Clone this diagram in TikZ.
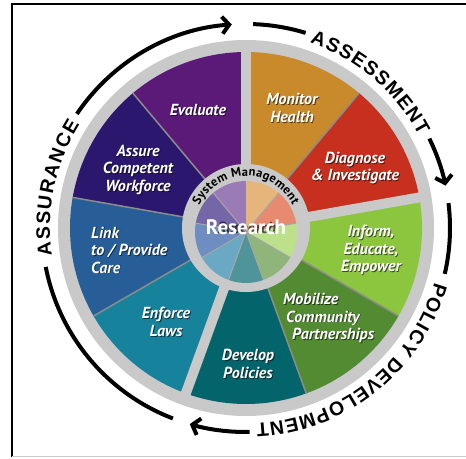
\documentclass[tikz,border=0pt]{standalone}
\usepackage{fontspec}
\setsansfont{PT Sans}
\newfontfamily\ringfont{Liberation Sans}
\usetikzlibrary{arrows.meta,decorations.text}

% outer segments
\definecolor{monitorc}{HTML}{C98A2B}
\definecolor{diagnosec}{HTML}{C72F1E}
\definecolor{informc}{HTML}{8CC63E}
\definecolor{mobilizec}{HTML}{528B32}
\definecolor{developc}{HTML}{03656B}
\definecolor{enforcec}{HTML}{17829C}
\definecolor{linkc}{HTML}{285E97}
\definecolor{assurec}{HTML}{2B176E}
\definecolor{evaluatec}{HTML}{5C1A78}
% inner (research) segments
\definecolor{monitori}{HTML}{E6B57C}
\definecolor{diagnosei}{HTML}{E88A70}
\definecolor{informi}{HTML}{BDE08A}
\definecolor{mobilizei}{HTML}{8FB57A}
\definecolor{developi}{HTML}{4F9499}
\definecolor{enforcei}{HTML}{6AA8C4}
\definecolor{linki}{HTML}{6F8DC0}
\definecolor{assurei}{HTML}{7566A8}
\definecolor{evaluatei}{HTML}{9B7BB5}
\definecolor{ringgray}{HTML}{C9C9C9}
\definecolor{sepgray}{HTML}{8C8C8C}

\tikzset{
  ring/.style      = {line width=4pt, black},
  cycarrow/.style  = {ring, -{Straight Barb[length=7pt,width=17pt]}},
  gap/.style       = {line width=10pt, ringgray},
  sep/.style       = {line width=1.5pt, sepgray},
  lbl/.style       = {text=white, inner sep=0pt, align=center,
                      font=\sffamily\bfseries\itshape\fontsize{16}{17.5}\selectfont},
  lblshadow/.style = {lbl, text=black, opacity=0.6, xshift=0.9pt, yshift=-0.9pt},
  research/.style  = {lbl, font=\sffamily\bfseries\fontsize{21}{21}\selectfont},
  arctext/.style   = {decorate, decoration={text along path,
                      text align={fit to path}, text={#1}}}
}

\begin{document}
\begin{tikzpicture}[x=1pt,y=1pt]

\useasboundingbox (-246,-230) rectangle (220,228);
\fill[white] (-246,-230) rectangle (220,228);

% frame
\draw[line width=1.5pt] (-234,-229) -- (-234,224) -- (220,224);
\draw[line width=0.8pt, black!20] (-234,-228) -- (220,-228);

% wheel
\fill[ringgray] (0,0) circle (188);
\foreach \a/\col in {90/monitorc, 50/diagnosec, 10/informc, -30/mobilizec,
  -70/developc, -110/enforcec, -150/linkc, -190/assurec, -230/evaluatec}{
    \fill[\col] (0,0) -- (\a:176) arc[start angle=\a, end angle=\a-40, radius=176] -- cycle;
    }
\foreach \s in {50,-30,-70,-150,170,130}
    \draw[sep] (0,0) -- (\s:176);
\foreach \g in {90,10,-110}
    \draw[gap] (0,0) -- (\g:182);

% research hub
\fill[ringgray] (0,0) circle (64);
\begin{scope}[shift={(0,-4)}]
\foreach \a/\col in {90/monitori, 50/diagnosei, 10/informi, -30/mobilizei,
  -70/developi, -110/enforcei, -150/linki, -190/assurei, -230/evaluatei}{
    \fill[\col] (0,0) -- (\a:51) arc[start angle=\a, end angle=\a-40, radius=51] -- cycle;
    \draw[line width=1pt, black!35] (0,0) -- (\a:51);
    }
\end{scope}
\path[arctext={|\sffamily\bfseries\fontsize{12.5}{12.5}\selectfont|System Management}]
    (154:52) arc[start angle=154, end angle=26, radius=52];

\node[lblshadow] (research-sh) at (0,1) {Research};
\node[research] (research) at (0,1) {Research};

% segment labels
\foreach \nm/\px/\py/\txt in {evaluate/-48/118/{Evaluate},
    monitor/46/120/{Monitor\\Health},
    diagnose/109/60/{Diagnose\\\& Investigate},
    inform/125/-22/{Inform,\\Educate,\\Empower},
    develop/2/-136/{Develop\\Policies},
    enforce/-80/-94/{Enforce\\Laws},
    assure/-108/58/{Assure\\Competent\\Workforce}}{
    \node[lblshadow] (\nm-sh) at (\px,\py) {\txt};
    \node[lbl] (\nm) at (\px,\py) {\txt};
    }
\node[lblshadow, align=left, anchor=west] (mobilize-sh) at (37,-90)
    {Mobilize\\\hspace*{3pt}Community\\\hspace*{9pt}Partnerships};
\node[lbl, align=left, anchor=west] (mobilize) at (37,-90)
    {Mobilize\\\hspace*{3pt}Community\\\hspace*{9pt}Partnerships};
\node[lblshadow, align=left, anchor=west] (link-sh) at (-155,-22)
    {Link\\to / Provide\\Care};
\node[lbl, align=left, anchor=west] (link) at (-155,-22)
    {Link\\to / Provide\\Care};

% cycle arcs
\draw[ring] (88:204) arc[start angle=88, end angle=73, radius=204];
\path[arctext={|\ringfont\bfseries\fontsize{19.5}{19.5}\selectfont|ASSESSMENT}]
    (71:196) arc[start angle=71, end angle=28, radius=196];
\draw[cycarrow] (26:204) arc[start angle=26, end angle=12, radius=204];

\draw[ring] (7:204) arc[start angle=7, end angle=-13, radius=204];
\path[arctext={|\ringfont\bfseries\fontsize{19.5}{19.5}\selectfont|POLICY DEVELOPMENT}]
    (-16:196) arc[start angle=-16, end angle=-87, radius=196];
\draw[cycarrow] (-89:204) arc[start angle=-89, end angle=-106, radius=204];

\draw[ring] (249:204) arc[start angle=249, end angle=191, radius=204];
\path[arctext={|\ringfont\bfseries\fontsize{19.5}{19.5}\selectfont|ASSURANCE}]
    (188:196) arc[start angle=188, end angle=148, radius=196];
\draw[cycarrow] (146:204) arc[start angle=146, end angle=94, radius=204];

\end{tikzpicture}
\end{document}
